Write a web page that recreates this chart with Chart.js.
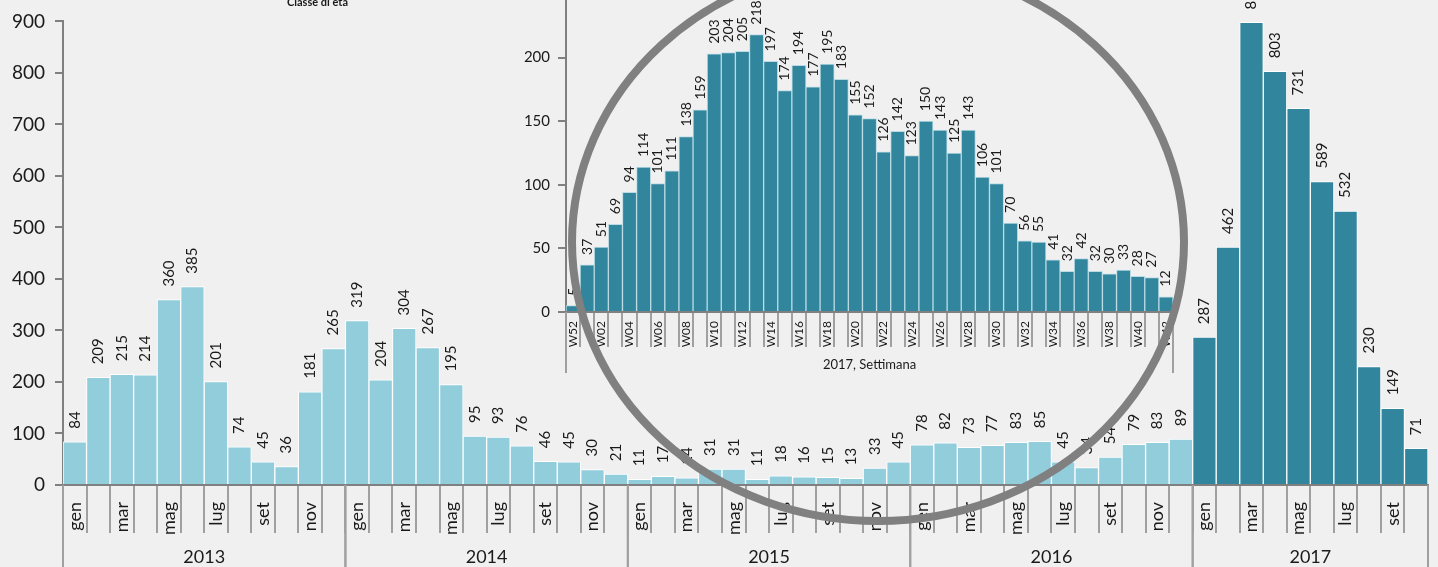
<!DOCTYPE html>
<html>
<head>
<meta charset="utf-8">
<script src="https://cdn.jsdelivr.net/npm/chart.js"></script>
<style>
  body { margin: 0; background: #f0f0f0; }
  #wrap { position: relative; width: 1438px; height: 567px; overflow: hidden; background: #f0f0f0; }
  #main { position: absolute; left: 0; top: 0; }
  #inset { position: absolute; left: 500px; top: -40px; }
  #ring { position: absolute; left: 0; top: 0; pointer-events: none; }
  #topnote { position: absolute; left: 287px; top: -5px; font: bold 11px Lato, sans-serif; color: #1a1a1a; }
</style>
</head>
<body>
<div id="wrap">
  <canvas id="main" width="1438" height="567"></canvas>
  <div id="topnote">Classe di età</div>
  <canvas id="inset" width="700" height="420"></canvas>
  <canvas id="ring" width="1438" height="567"></canvas>
</div>
<script>
// casi mensili per anno
const years = ['2013', '2014', '2015', '2016', '2017'];
const monthNames = ['gen', 'feb', 'mar', 'apr', 'mag', 'giu', 'lug', 'ago', 'set', 'ott', 'nov', 'dic'];
const cases2013 = [84, 209, 215, 214, 360, 385, 201, 74, 45, 36, 181, 265];
const cases2014 = [319, 204, 304, 267, 195, 95, 93, 76, 46, 45, 30, 21];
const cases2015 = [11, 17, 14, 31, 31, 11, 18, 16, 15, 13, 33, 45];
const cases2016 = [78, 82, 73, 77, 83, 85, 45, 34, 54, 79, 83, 89];
const cases2017 = [287, 462, 898, 803, 731, 589, 532, 230, 149, 71];

// casi settimanali 2017
const weeks = ['W52', 'W01', 'W02', 'W03', 'W04', 'W05', 'W06', 'W07', 'W08', 'W09', 'W10',
  'W11', 'W12', 'W13', 'W14', 'W15', 'W16', 'W17', 'W18', 'W19', 'W20', 'W21', 'W22', 'W23',
  'W24', 'W25', 'W26', 'W27', 'W28', 'W29', 'W30', 'W31', 'W32', 'W33', 'W34', 'W35', 'W36',
  'W37', 'W38', 'W39', 'W40', 'W41', 'W42'];
const weekCases = [5, 37, 51, 69, 94, 114, 101, 111, 138, 159, 203, 204, 205, 218, 197, 174,
  194, 177, 195, 183, 155, 152, 126, 142, 123, 150, 143, 125, 143, 106, 101, 70, 56, 55, 41,
  32, 42, 32, 30, 33, 28, 27, 12];

const FONT = 'Lato, "Open Sans", sans-serif';
const LIGHT = '#92cddc';
const DARK = '#31859c';
const AXIS = '#808080';
const TEXT = '#1a1a1a';

const yearly = [cases2013, cases2014, cases2015, cases2016, cases2017];
const monthLabels = [];
const values = [];
const colors = [];
yearly.forEach((arr, k) => {
  arr.forEach((v, i) => {
    monthLabels.push(monthNames[i]);
    values.push(v);
    colors.push(years[k] === '2017' ? DARK : LIGHT);
  });
});

// etichette verticali sopra le barre
function valueLabels(size, gap) {
  return {
    id: 'valueLabels',
    afterDatasetsDraw(chart) {
      const ctx = chart.ctx;
      const meta = chart.getDatasetMeta(0);
      const data = chart.data.datasets[0].data;
      ctx.save();
      ctx.font = size + 'px ' + FONT;
      ctx.fillStyle = TEXT;
      ctx.textAlign = 'left';
      ctx.textBaseline = 'middle';
      meta.data.forEach((bar, i) => {
        ctx.save();
        ctx.translate(bar.x, bar.y - gap);
        ctx.rotate(-Math.PI / 2);
        ctx.fillText(String(data[i]), 0, 0);
        ctx.restore();
      });
      ctx.restore();
    }
  };
}

// anni sotto l'asse x
const yearAxis = {
  id: 'yearAxis',
  afterDraw(chart) {
    const x = chart.scales.x;
    const ctx = chart.ctx;
    const half = (x.getPixelForValue(1) - x.getPixelForValue(0)) / 2;
    let start = 0;
    ctx.save();
    ctx.strokeStyle = '#a0a0a0';
    ctx.lineWidth = 2;
    ctx.fillStyle = TEXT;
    ctx.font = '18px ' + FONT;
    ctx.textAlign = 'center';
    ctx.textBaseline = 'middle';
    yearly.forEach((arr, k) => {
      const x0 = x.getPixelForValue(start) - half;
      const x1 = x.getPixelForValue(start + arr.length - 1) + half;
      [x0, x1].forEach(px => {
        ctx.beginPath();
        ctx.moveTo(px, x.top);
        ctx.lineTo(px, chart.height);
        ctx.stroke();
      });
      ctx.fillText(years[k], (x0 + x1) / 2, 557);
      start += arr.length;
    });
    ctx.restore();
  }
};

new Chart(document.getElementById('main'), {
  type: 'bar',
  data: {
    labels: monthLabels,
    datasets: [{
      data: values,
      backgroundColor: colors,
      borderColor: '#ffffff',
      borderWidth: 1,
      categoryPercentage: 1,
      barPercentage: 1
    }]
  },
  options: {
    responsive: false,
    animation: false,
    devicePixelRatio: 1,
    layout: { padding: { top: 20, right: 10, left: 0, bottom: 0 } },
    plugins: { legend: { display: false }, tooltip: { enabled: false } },
    scales: {
      x: {
        grid: { offset: true, drawOnChartArea: false, tickLength: 48, color: '#a0a0a0', lineWidth: 2 },
        border: { color: AXIS, width: 2 },
        ticks: {
          autoSkip: false, minRotation: 90, maxRotation: 90, padding: -31,
          color: TEXT, font: { family: FONT, size: 18 },
          callback: (v, i) => (i % 2 === 0 ? monthLabels[i] : '')
        },
        afterFit: s => { s.height = 82; }
      },
      y: {
        min: 0, max: 900,
        ticks: { stepSize: 100, padding: 10, color: TEXT, font: { family: FONT, size: 19 } },
        grid: { drawOnChartArea: false, tickLength: 8, color: AXIS, lineWidth: 2 },
        border: { color: AXIS, width: 2 },
        afterFit: s => { s.width = 63; }
      }
    }
  },
  plugins: [valueLabels(15, 13), yearAxis]
});

// riquadro settimanale
const weekAxis = {
  id: 'weekAxis',
  afterDraw(chart) {
    const x = chart.scales.x;
    const ctx = chart.ctx;
    ctx.save();
    ctx.strokeStyle = '#a0a0a0';
    ctx.lineWidth = 2;
    [chart.chartArea.left, chart.chartArea.right].forEach(px => {
      ctx.beginPath();
      ctx.moveTo(px, x.top);
      ctx.lineTo(px, 413);
      ctx.stroke();
    });
    ctx.fillStyle = TEXT;
    ctx.font = '13px ' + FONT;
    ctx.textAlign = 'center';
    ctx.textBaseline = 'middle';
    ctx.fillText('2017, Settimana', (chart.chartArea.left + chart.chartArea.right) / 2, 405);
    ctx.restore();
  }
};

new Chart(document.getElementById('inset'), {
  type: 'bar',
  data: {
    labels: weeks,
    datasets: [{
      data: weekCases,
      backgroundColor: DARK,
      borderColor: '#b9dbe4',
      borderWidth: 1,
      categoryPercentage: 1,
      barPercentage: 1
    }]
  },
  options: {
    responsive: false,
    animation: false,
    devicePixelRatio: 1,
    layout: { padding: { top: 34, right: 27, left: 0, bottom: 0 } },
    plugins: { legend: { display: false }, tooltip: { enabled: false } },
    scales: {
      x: {
        grid: { offset: true, drawOnChartArea: false, tickLength: 35, color: '#a0a0a0', lineWidth: 2 },
        border: { color: AXIS, width: 2 },
        ticks: {
          autoSkip: false, minRotation: 90, maxRotation: 90, padding: -26,
          color: TEXT, font: { family: FONT, size: 12 },
          callback: (v, i) => (i % 2 === 0 ? weeks[i] : '')
        },
        afterFit: s => { s.height = 68; }
      },
      y: {
        min: 0, max: 250,
        ticks: {
          stepSize: 50, padding: 8, color: TEXT, font: { family: FONT, size: 15 },
          callback: v => (v > 200 ? '' : v)
        },
        grid: { drawOnChartArea: false, tickLength: 8, color: AXIS, lineWidth: 2 },
        border: { color: AXIS, width: 2 },
        afterFit: s => { s.width = 66; }
      }
    }
  },
  plugins: [valueLabels(14, 10), weekAxis]
});

// cerchio grigio di evidenziazione
const ring = document.getElementById('ring').getContext('2d');
ring.strokeStyle = '#808080';
ring.lineWidth = 8;
ring.beginPath();
ring.ellipse(878, 242, 306, 279, 0, 0, Math.PI * 2);
ring.stroke();
</script>
</body>
</html>
